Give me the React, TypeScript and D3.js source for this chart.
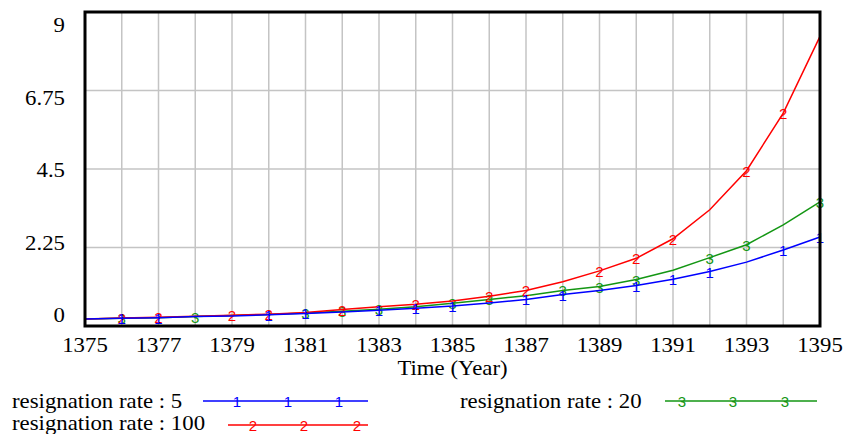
import React from "react";
import * as d3 from "d3";

const years = d3.range(1375, 1396);
const rate5 = [0.2, 0.22, 0.24, 0.27, 0.29, 0.32, 0.36, 0.4, 0.45, 0.51, 0.57, 0.66, 0.76, 0.9, 1.02, 1.16, 1.34, 1.56, 1.83, 2.18, 2.55];
const rate100 = [0.2, 0.23, 0.25, 0.28, 0.31, 0.34, 0.39, 0.47, 0.55, 0.62, 0.72, 0.85, 1.02, 1.27, 1.58, 1.94, 2.5, 3.33, 4.45, 6.1, 8.3];
const rate20 = [0.2, 0.22, 0.24, 0.27, 0.3, 0.33, 0.37, 0.42, 0.48, 0.55, 0.65, 0.76, 0.87, 1.02, 1.13, 1.33, 1.6, 1.96, 2.33, 2.9, 3.56];

const markers5 = [1376, 1377, 1380, 1381, 1383, 1384, 1385, 1387, 1388, 1390, 1391, 1392, 1394, 1395];
const markers100 = [1376, 1377, 1379, 1380, 1382, 1384, 1386, 1387, 1389, 1390, 1391, 1393, 1394];
const markers20 = [1376, 1378, 1381, 1382, 1383, 1385, 1386, 1388, 1389, 1390, 1392, 1393, 1395];

const yTicks = [0, 2.25, 4.5, 6.75, 9];
const yTickLabels = ["0", "2.25", "4.5", "6.75", "9"];
const xTicks = [1375, 1377, 1379, 1381, 1383, 1385, 1387, 1389, 1391, 1393, 1395];
const xTitle = "Time (Year)";

const series = [
  { name: "resignation rate : 20", label: "3", values: rate20, markers: markers20, color: "#139613" },
  { name: "resignation rate : 100", label: "2", values: rate100, markers: markers100, color: "#ff0000" },
  { name: "resignation rate : 5", label: "1", values: rate5, markers: markers5, color: "#0000ff" },
];

const W = 845, H = 434;
const L = 85, R = 820, T = 12, B = 326;
const SX = 1.14;
const serif = "'Liberation Serif', 'Times New Roman', serif";
const sans = "'Liberation Sans', Arial, sans-serif";

function SText({ x, y, anchor = "start", size = 20, children }: any) {
  return (
    <text transform={`translate(${x},${y}) scale(${SX},1)`} textAnchor={anchor}
      fontFamily={serif} fontSize={size} fill="#000">{children}</text>
  );
}

export default function App() {
  const x = d3.scaleLinear().domain([1375, 1395]).range([L, R]);
  const y = d3.scaleLinear().domain([0, 9]).range([B, T]);
  const yLab = d3.scaleLinear().domain([0, 9]).range([322, 32]);
  const line = d3.line<number>().x((_, i) => x(years[i])).y((d) => y(d));

  const legend = [
    { s: series[2], tx: 12, ty: 408, lx1: 203, lx2: 368, ly: 401, mx: [237, 288, 339] },
    { s: series[0], tx: 460, ty: 408, lx1: 665, lx2: 817, ly: 401, mx: [682, 733, 785] },
    { s: series[1], tx: 12, ty: 430, lx1: 228, lx2: 368, ly: 425, mx: [253, 304, 357] },
  ];

  return (
    <svg width={W} height={H} style={{ position: "absolute", left: 0, top: 0, background: "#fff" }}>
      {d3.range(1376, 1395).map((yr) => (
        <line key={"gx" + yr} x1={x(yr)} x2={x(yr)} y1={T} y2={B} stroke="#c4c4c4" strokeWidth={1.5} />
      ))}
      {[2.25, 4.5, 6.75].map((v) => (
        <line key={"gy" + v} x1={L} x2={R} y1={y(v)} y2={y(v)} stroke="#c4c4c4" strokeWidth={1.5} />
      ))}
      {series.map((s) => (
        <g key={s.name}>
          <path d={line(s.values) || ""} fill="none" stroke={s.color} strokeWidth={1.5} />
          {s.markers.map((yr) => (
            <text key={yr} x={x(yr)} y={y(s.values[yr - 1375]) + 6} textAnchor="middle"
              fontFamily={sans} fontSize={15} fill={s.color}>{s.label}</text>
          ))}
        </g>
      ))}
      <rect x={L} y={T} width={R - L} height={B - T} fill="none" stroke="#000" strokeWidth={3} />
      {yTicks.map((v, i) => (
        <SText key={"yl" + v} x={65} y={yLab(v)} anchor="end">{yTickLabels[i]}</SText>
      ))}
      {xTicks.map((v) => (
        <SText key={"xl" + v} x={x(v)} y={352} anchor="middle">{String(v)}</SText>
      ))}
      <SText x={(L + R) / 2} y={375} anchor="middle">{xTitle}</SText>
      {legend.map((l) => (
        <g key={"lg" + l.s.name}>
          <SText x={l.tx} y={l.ty}>{l.s.name}</SText>
          <line x1={l.lx1} x2={l.lx2} y1={l.ly} y2={l.ly} stroke={l.s.color} strokeWidth={1.5} />
          {l.mx.map((m) => (
            <text key={m} x={m} y={l.ly + 6} textAnchor="middle" fontFamily={sans} fontSize={15} fill={l.s.color}>{l.s.label}</text>
          ))}
        </g>
      ))}
    </svg>
  );
}
